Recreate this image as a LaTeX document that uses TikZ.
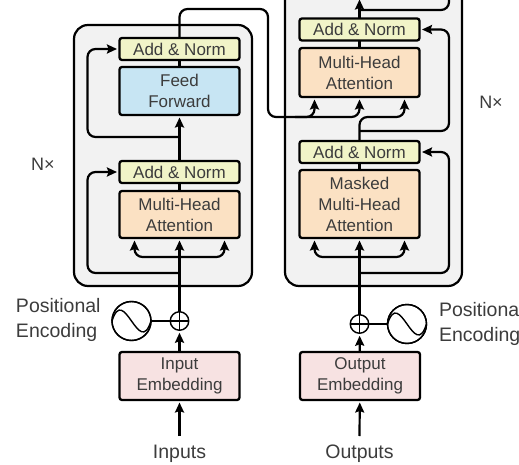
\documentclass[tikz,border=0pt]{standalone}
\usepackage{fontspec}
\usetikzlibrary{arrows.meta}
\setmainfont{Liberation Sans}
\definecolor{normfill}{HTML}{F1F4C8}
\definecolor{attfill}{HTML}{FBE1C3}
\definecolor{ffwfill}{HTML}{C7E5F3}
\definecolor{embfill}{HTML}{F7E2E2}
\definecolor{blockfill}{HTML}{F2F2F2}
\definecolor{labelgray}{HTML}{3C3C3C}
\begin{document}
\begin{tikzpicture}[x=1pt, y=-1pt, >={Stealth[length=10pt,width=9pt,inset=1.5pt]},
every node/.style = {align=center, inner sep=0pt, outer sep=0pt, text=labelgray,
	font=\fontsize{17}{21}\selectfont},
outerlabel/.style = {font=\fontsize{19.5}{25}\selectfont},
layerbox/.style = {shape=rectangle, rounded corners=2.5pt, draw, line width=2.3pt, minimum width=120pt},
addnorm/.style = {layerbox, minimum height=22pt, fill=normfill},
attention/.style = {layerbox, fill=attfill},
feedforward/.style = {layerbox, minimum height=48pt, fill=ffwfill},
embedding/.style = {layerbox, minimum height=48pt, fill=embfill},
stackbox/.style = {draw, line width=2.2pt, rounded corners=14pt, fill=blockfill},
flow/.style = {draw, line width=2.2pt, rounded corners=8pt},
flowto/.style = {flow, ->, shorten >=2.5pt},
sine/.style = {shape=circle, draw, line width=1.4pt, minimum size=39pt},
plus/.style = {shape=circle, draw, line width=1.4pt, minimum size=18.5pt,
	path picture={\draw[line width=1.2pt] (path picture bounding box.north) -- (path picture bounding box.south)
	(path picture bounding box.west) -- (path picture bounding box.east);}}]
\useasboundingbox (0,0) rectangle (519,465);

\draw[stackbox] (74,25) rectangle (252,286);
\draw[stackbox] (285,-40) rectangle (462,286);

% encoder
\node[addnorm] (encnormb) at (179.5,49) {Add \& Norm};
\node[feedforward] (encff) at (179.5,91) {Feed\\ Forward};
\node[addnorm] (encnorma) at (179.5,172) {Add \& Norm};
\node[attention, minimum height=47pt] (encatt) at (179.5,214.5) {Multi-Head\\ Attention};
\node[embedding] (inemb) at (179.5,376) {Input\\ Embedding};
\node[plus] (encplus) at (179.5,321) {};
\node[sine] (encsine) at (131.5,321) {};
\node[outerlabel] (inputs) at (179.5,454) {Inputs};
\node[outerlabel, anchor=west, align=left] (encpos) at (16,319.5) {Positional\\ Encoding};
\node[outerlabel, font=\fontsize{18}{21}\selectfont] (encn) at (43,164.5) {N×};

% decoder
\node[addnorm] (decnormc) at (359.5,29.5) {Add \& Norm};
\node[attention, minimum height=49pt] (decatt) at (359.5,72.5) {Multi-Head\\ Attention};
\node[addnorm] (decnormb) at (359.5,152) {Add \& Norm};
\node[attention, minimum height=68pt] (decmask) at (359.5,204) {Masked\\ Multi-Head\\ Attention};
\node[embedding] (outemb) at (360,376) {Output\\ Embedding};
\node[plus] (decplus) at (359.5,324) {};
\node[sine] (decsine) at (407,324) {};
\node[outerlabel] (outputs) at (359.5,454) {Outputs};
\node[outerlabel, anchor=west, align=left] (decpos) at (439,323.5) {Positional\\ Encoding};
\node[outerlabel, font=\fontsize{18}{21}\selectfont] (decn) at (491,102) {N×};

\coordinate (inputsrc) at (179.5,436);
\coordinate (outputsrc) at (359.5,436);
\coordinate (encresa) at (179.5,273);
\coordinate (encresb) at (179.5,137);
\coordinate (decresa) at (359.5,273);
\coordinate (decresb) at (359.5,131);
\coordinate (decresc) at (359.5,10);
\coordinate (dectop) at (359.5,-3);
\coordinate (decedge) at (449,-10);
\coordinate (crosstop) at (268,9);
\coordinate (crossbot) at (268,117);
\coordinate (crossmid) at (295,117);
\coordinate (maskturn) at (380,117);

% vertical flow
\draw[flowto] (inputsrc) -- (inemb);
\draw[flowto] (outputsrc) -- (outemb);
\draw[flowto] (inemb) -- (encplus);
\draw[flowto] (outemb) -- (decplus);
\draw[flowto] (encplus) -- (encatt);
\draw[flowto] (decplus) -- (decmask);
\draw[flow] (encatt) -- (encnorma);
\draw[flow] (decmask) -- (decnormb);
\draw[flow] (decatt) -- (decnormc);
\draw[flow] (encff) -- (encnormb);
\draw[flowto] (encnorma) -- (encff);
\draw[flowto] (decnormc) -- (dectop);

% residuals
\draw[flowto] (encresa) -- ++(-92,0) |- (encnorma.west);
\draw[flowto] (encresb) -- ++(-92,0) |- (encnormb.west);
\draw[flowto] (decresa) -- ++(89.5,0) |- (decnormb.east);
\draw[flowto] (decresb) -- ++(89.5,0) |- (decnormc.east);
\draw[flow] (decresc) -| (decedge);

% attention inputs
\draw[flow, <->, shorten >=2.5pt, shorten <=2.5pt] ([xshift=15pt]encatt.south west) -- ++(0,19) -| ([xshift=-15pt]encatt.south east);
\draw[flow, <->, shorten >=2.5pt, shorten <=2.5pt] ([xshift=15pt]decmask.south west) -- ++(0,19) -| ([xshift=-15pt]decmask.south east);
\draw[flowto] (encnormb.north) |- (crosstop) -- (crossbot) -| ([xshift=15pt]decatt.south west);
\draw[flowto] (crossmid) -| (decatt.south);
\draw[flowto] (decnormb.north) |- (maskturn) -| ([xshift=-15pt]decatt.south east);

% positional encoding
\draw[line width=2.2pt] (encsine) -- (encplus);
\draw[line width=2.2pt] (decsine) -- (decplus);
\node[sine] at (encsine) {};
\node[sine] at (decsine) {};
\draw[line width=1.4pt] (encsine.west) .. controls +(12,-38) and +(-12,38) .. (encsine.east);
\draw[line width=1.4pt] (decsine.west) .. controls +(12,-38) and +(-12,38) .. (decsine.east);
\end{tikzpicture}
\end{document}
